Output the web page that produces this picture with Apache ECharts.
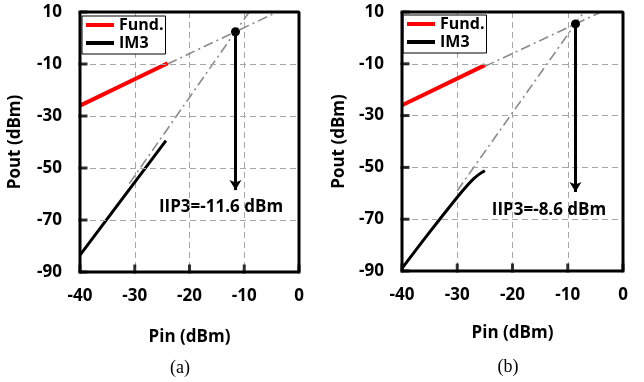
<!DOCTYPE html>
<html><head><meta charset="utf-8">
<script src="https://cdn.jsdelivr.net/npm/echarts@6/dist/echarts.min.js"></script>
<style>html,body{margin:0;padding:0;background:#fff}#c{width:644px;height:382px;background:#fff}</style>
</head><body><div id="c"></div>
<script>
// axes
const xRange = [-40, 0];
const yRange = [-90, 10];
const xTicks = [-40, -30, -20, -10, 0];
const yTicks = [-90, -70, -50, -30, -10, 10];
const legendNames = ['Fund.', 'IM3'];
// panel (a)
const fundPinA = [-40, -24];
const fundA = [-26, -9.7];
const im3PinA = [-40, -24.3];
const im3A = [-83.5, -39.5];
const fundExtPinA = [-24, -4];
const fundExtA = [-10, 10];
const im3ExtPinA = [-31, -9.1];
const im3ExtA = [-56, 10];
const iip3A = [-11.6, 2.4];
const arrowEndA = -58.5;
const labelA = 'IIP3=-11.6 dBm';
// panel (b)
const fundPinB = [-40, -25];
const fundB = [-26, -10.5];
const im3PinB = [-40, -35, -30, -28, -27, -26, -25];
const im3B = [-89, -75, -61.5, -56.5, -54.3, -52.6, -51.3];
const fundExtPinB = [-25, -4];
const fundExtB = [-11, 10];
const im3ExtPinB = [-30, -7.1];
const im3ExtB = [-59, 10];
const iip3B = [-8.6, 5.4];
const arrowEndB = -59.5;
const labelB = 'IIP3=-8.6 dBm';

const FONT = 'Open Sans';
const zip = (xs, ys) => xs.map((x, i) => [x, ys[i]]);

function xAxis(gi, gap) {
  return {
    type: 'value', gridIndex: gi, min: xRange[0], max: xRange[1], interval: 10,
    name: 'Pin (dBm)', nameLocation: 'middle', nameGap: gap,
    nameTextStyle: {fontFamily: FONT, fontWeight: 'bold', fontSize: 17, color: '#000'},
    axisLine: {show: false}, axisTick: {show: false},
    axisLabel: {margin: 16, fontFamily: FONT, fontWeight: 'bold', fontSize: 17, color: '#000'},
    splitLine: {show: true, lineStyle: {color: '#a6a6a6', width: 1, type: [6, 4]}}
  };
}
function yAxis(gi, gap) {
  return {
    type: 'value', gridIndex: gi, min: yRange[0], max: yRange[1], interval: 10,
    name: 'Pout (dBm)', nameLocation: 'middle', nameGap: gap, nameRotate: 90,
    nameTextStyle: {fontFamily: FONT, fontWeight: 'bold', fontSize: 17, color: '#000'},
    axisLine: {show: false}, axisTick: {show: false},
    axisLabel: {margin: 18, fontFamily: FONT, fontWeight: 'bold', fontSize: 17, color: '#000',
      formatter: v => (yTicks.indexOf(v) >= 0 ? String(v) : '')},
    splitLine: {show: false}
  };
}
const dashDot = {color: '#8a8a8a', width: 1.6, type: [10, 4, 2, 4]};
function frameSeries(gi) {
  const corners = [[xRange[0], yRange[0]], [xRange[1], yRange[0]], [xRange[1], yRange[1]],
    [xRange[0], yRange[1]], [xRange[0], yRange[0]]];
  return [
    {type: 'line', xAxisIndex: gi, yAxisIndex: gi, data: [], z: 1, silent: true,
      markLine: {silent: true, symbol: 'none', label: {show: false},
        lineStyle: {color: '#a6a6a6', width: 1, type: [6, 4]},
        data: yTicks.map(v => ({yAxis: v}))}},
    {type: 'line', xAxisIndex: gi, yAxisIndex: gi, data: corners, symbol: 'none', clip: false,
      silent: true, z: 6, lineStyle: {color: '#000', width: 3}},
    {type: 'scatter', xAxisIndex: gi, yAxisIndex: gi, data: xTicks.map(v => [v, yRange[0]]),
      symbol: 'rect', symbolSize: [3, 9], symbolOffset: [0, -3], itemStyle: {color: '#000'},
      clip: false, silent: true, z: 6},
    {type: 'scatter', xAxisIndex: gi, yAxisIndex: gi, data: yTicks.map(v => [xRange[0], v]),
      symbol: 'rect', symbolSize: [9, 3], symbolOffset: [3, 0], itemStyle: {color: '#000'},
      clip: false, silent: true, z: 6}
  ];
}
function panelSeries(gi, d) {
  return [
    ...frameSeries(gi),
    {type: 'line', xAxisIndex: gi, yAxisIndex: gi, data: zip(d.fep, d.fe), symbol: 'none',
      lineStyle: dashDot, z: 2, silent: true},
    {type: 'line', xAxisIndex: gi, yAxisIndex: gi, data: zip(d.iep, d.ie), symbol: 'none',
      lineStyle: dashDot, z: 2, silent: true},
    {name: 'Fund.', type: 'line', xAxisIndex: gi, yAxisIndex: gi, data: zip(d.fp, d.f),
      symbol: 'none', color: '#ff0000', lineStyle: {color: '#ff0000', width: 4}, z: 3},
    {name: 'IM3', type: 'line', xAxisIndex: gi, yAxisIndex: gi, data: zip(d.ip, d.i),
      symbol: 'none', smooth: 0.4, color: '#000', lineStyle: {color: '#000', width: 3}, z: 3},
    {type: 'line', xAxisIndex: gi, yAxisIndex: gi, data: [], z: 4,
      markLine: {silent: true, symbol: ['circle', 'arrow'], symbolSize: [9, 10],
        lineStyle: {color: '#000', width: 3, type: 'solid'}, label: {show: false},
        data: [[{coord: d.pt}, {coord: [d.pt[0], d.end]}]]}}
  ];
}

const chart = echarts.init(document.getElementById('c'));
function legend(left, top) {
  return {left: left, top: top, orient: 'vertical', icon: 'rect', itemWidth: 28, itemHeight: 4, itemGap: 2,
    backgroundColor: '#fff', borderColor: '#000', borderWidth: 1,
    padding: [1, 2, 3, 4], data: legendNames, selectedMode: false,
    textStyle: {fontFamily: FONT, fontWeight: 'bold', fontSize: 16, color: '#000'}};
}
function txt(text, x, y, family, weight, size) {
  return {type: 'text', x: x, y: y, style: {text: text, align: 'center', verticalAlign: 'middle',
    fontFamily: family, fontWeight: weight, fontSize: size, fill: '#000'}};
}
chart.setOption({
  animation: false,
  grid: [
    {left: 80, top: 12, width: 219, height: 260},
    {left: 402, top: 12, width: 221, height: 259}
  ],
  xAxis: [xAxis(0, 57), xAxis(1, 54)],
  yAxis: [yAxis(0, 56), yAxis(1, 54)],
  legend: [legend(82, 16), legend(403, 15)],
  series: [
    ...panelSeries(0, {fp: fundPinA, f: fundA, ip: im3PinA, i: im3A, fep: fundExtPinA, fe: fundExtA,
      iep: im3ExtPinA, ie: im3ExtA, pt: iip3A, end: arrowEndA}),
    ...panelSeries(1, {fp: fundPinB, f: fundB, ip: im3PinB, i: im3B, fep: fundExtPinB, fe: fundExtB,
      iep: im3ExtPinB, ie: im3ExtB, pt: iip3B, end: arrowEndB})
  ],
  graphic: [
    txt(labelA, 221, 207, FONT, 'bold', 17),
    txt(labelB, 549, 210, FONT, 'bold', 17),
    txt('(a)', 180, 368, 'Liberation Serif', 'normal', 18),
    txt('(b)', 508, 367, 'Liberation Serif', 'normal', 18)
  ]
});
</script></body></html>
